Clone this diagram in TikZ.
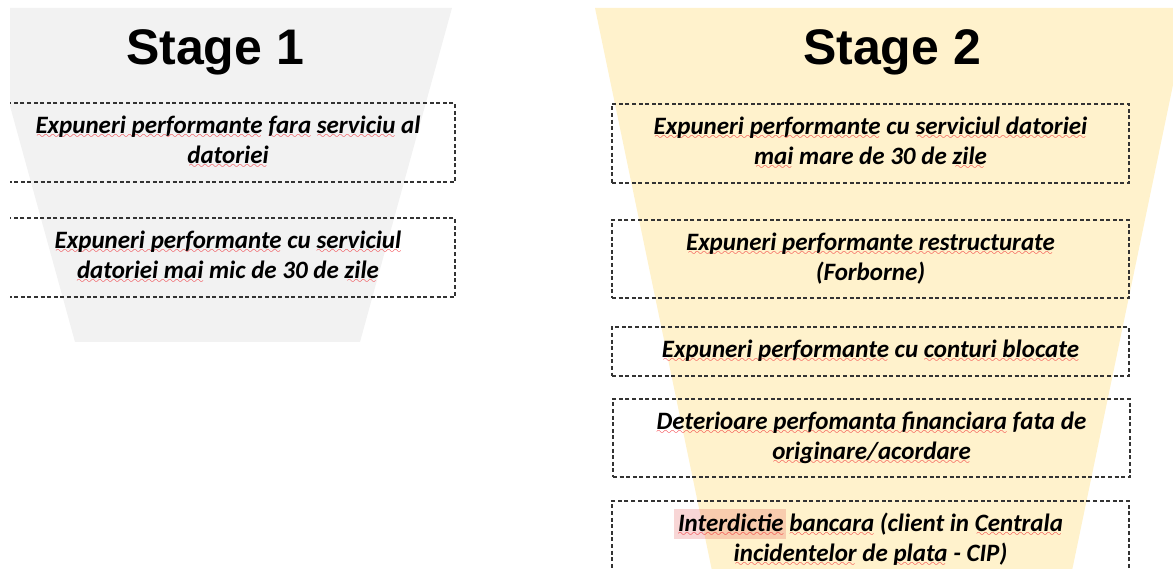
\documentclass[tikz,border=0pt]{standalone}
\usepackage{fontspec}
\setmainfont{Carlito}
\newfontfamily\headfont{Liberation Sans}

\definecolor{stagegray}{HTML}{F2F2F2}
\definecolor{stagegold}{HTML}{FFF2CC}
\definecolor{spellred}{HTML}{F01820}
\definecolor{markpink}{RGB}{225,70,70}
\definecolor{dashgray}{HTML}{333333}

% red wavy underline for flagged words
\font\wavefont=lasy10 at 10.5pt
\newsavebox\rwbox
\newcommand\rw[1]{\sbox\rwbox{#1}\rlap{\textcolor{spellred}{\raisebox{-5pt}{\hbox to\wd\rwbox{\cleaders\hbox{\wavefont\char58}\hfil}}}}\usebox\rwbox}

\begin{document}
\begin{tikzpicture}[x=1pt,y=-1pt,
  cell/.style={draw=dashgray, line width=1.2pt, dash pattern=on 4pt off 2.6pt,
    inner sep=0pt, align=center,
    font=\fontsize{25}{30}\selectfont\bfseries\itshape},
  stagetitle/.style={font=\headfont\fontsize{50}{58}\selectfont\bfseries,
    inner sep=0pt, anchor=base}]
\useasboundingbox (0,0) rectangle (1173,569);
\clip (0,0) rectangle (1173,569);

% Stage 1 funnel and its boxes
\begin{scope}
  \clip (10,8) rectangle (600,569);
  \fill[stagegray] (-17,8) -- (452,8) -- (360,342) -- (75,342) -- cycle;
  \node[stagetitle] (t1) at (215,65) {Stage 1};
  \node[cell, minimum width=454pt, minimum height=79pt] (s1a) at (228,142.5)
    {\rw{Expuneri performante} \rw{fara} \rw{serviciu} al\\ \rw{datoriei}};
  \node[cell, minimum width=454pt, minimum height=79pt] (s1b) at (228,257.5)
    {\rw{Expuneri performante} cu \rw{serviciul}\\ \rw{datoriei mai} mic de 30 de \rw{zile}};
\end{scope}

% Stage 2 funnel
\fill[stagegold] (595,8) -- (1189,8) -- (1068,590) -- (716,590) -- cycle;
\node[stagetitle] (t2) at (892,65) {Stage 2};

% highlighted word in the last box
\fill[markpink, opacity=0.22] (674,509) rectangle (786,539);

\node[cell, minimum width=517pt, minimum height=79pt] (s2a) at (870.5,143.5)
  {\rw{Expuneri performante} cu \rw{serviciul datoriei}\\ \rw{mai} mare de 30 de \rw{zile}};
\node[cell, minimum width=517pt, minimum height=78pt] (s2b) at (870.5,259)
  {\rw{Expuneri performante restructurate}\\ (Forborne)};
\node[cell, minimum width=517pt, minimum height=49pt] (s2c) at (870.5,351.5)
  {\rw{Expuneri performante} cu \rw{conturi blocate}};
\node[cell, minimum width=517pt, minimum height=78pt] (s2d) at (871.5,438)
  {\rw{Deterioare perfomanta financiara} fata de\\ \rw{originare/acordare}};
\node[cell, minimum width=517pt, minimum height=78pt] (s2e) at (870.5,540)
  {\rw{Interdictie} \rw{bancara} (client in \rw{Centrala}\\ \rw{incidentelor} de \rw{plata} - CIP)};
\end{tikzpicture}
\end{document}
